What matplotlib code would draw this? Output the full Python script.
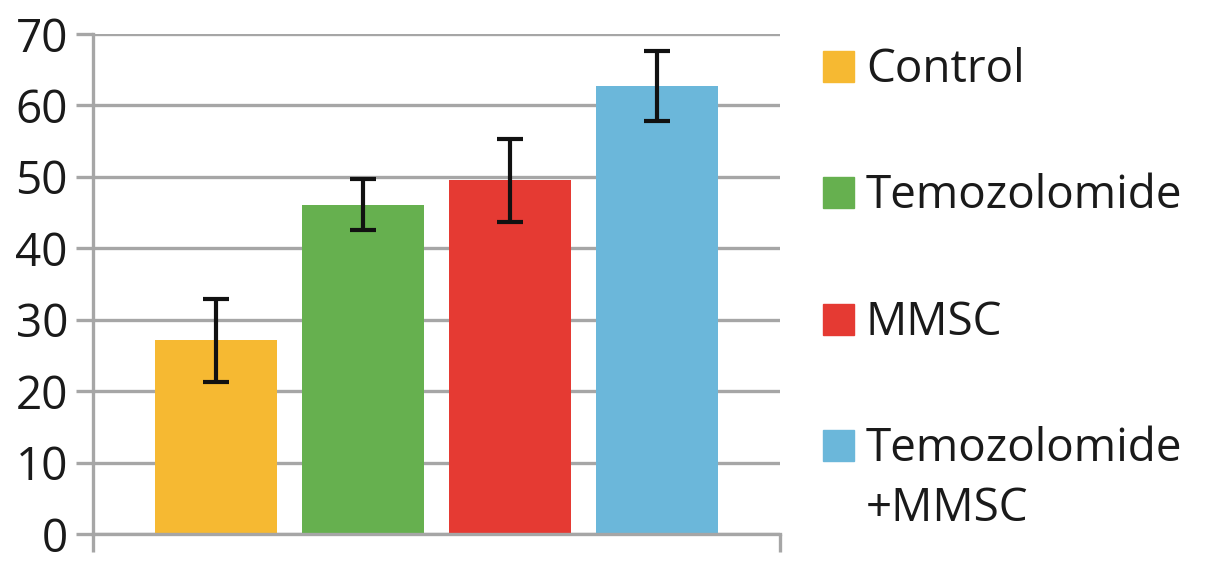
import matplotlib
matplotlib.use("Agg")
import matplotlib.pyplot as plt
from matplotlib.patches import Rectangle

groups = ["Control", "Temozolomide", "MMSC", "Temozolomide\n+MMSC"]
values = [27.1, 46.1, 49.5, 62.7]
errors = [5.8, 3.6, 5.8, 4.9]
colors = ["#F6B932", "#66B04F", "#E53A33", "#6BB7DA"]
yticks = [0, 10, 20, 30, 40, 50, 60, 70]

plt.rcParams["font.family"] = ["Open Sans", "DejaVu Sans"]

fig = plt.figure(figsize=(12.05, 5.67), dpi=100)
ax = fig.add_axes([93 / 1205, 33 / 567, 687 / 1205, 500 / 567])

x = list(range(len(values)))
ax.bar(x, values, width=0.827, color=colors, zorder=2)
ax.errorbar(x, values, yerr=errors, fmt="none", ecolor="#111111",
            elinewidth=3, capsize=9.4, capthick=3, zorder=3)

ax.set_xlim(-0.834, 3.834)
ax.set_ylim(0, 70)
ax.set_yticks(yticks)
ax.set_yticklabels([str(t) for t in yticks], fontsize=33, color="#1a1a1a")
ax.set_xticks([-0.834, 3.834])
ax.set_xticklabels([])
ax.tick_params(axis="y", length=12, width=2.4, color="#a6a6a6", pad=6)
ax.tick_params(axis="x", length=13, width=2.4, color="#a6a6a6")
ax.yaxis.grid(True, color="#a6a6a6", linewidth=2.4, zorder=0)
ax.set_axisbelow(True)
for s in ["top", "right"]:
    ax.spines[s].set_visible(False)
for s in ["left", "bottom"]:
    ax.spines[s].set_color("#a6a6a6")
    ax.spines[s].set_linewidth(2.4)

# legend drawn by hand so the square sits on the first line of each label
row_y = [67, 193, 320, 446]
for lab, col, yy in zip(groups, colors, row_y):
    fy = 1 - yy / 567
    fig.add_artist(Rectangle((823 / 1205, fy - 15 / 567), 31 / 1205, 31 / 567,
                             transform=fig.transFigure, color=col))
    fig.text(866 / 1205, 1 - (yy - 20) / 567, lab, fontsize=33, color="#1a1a1a",
             va="top", ha="left", linespacing=1.4)

fig.savefig("out.png", dpi=100)
